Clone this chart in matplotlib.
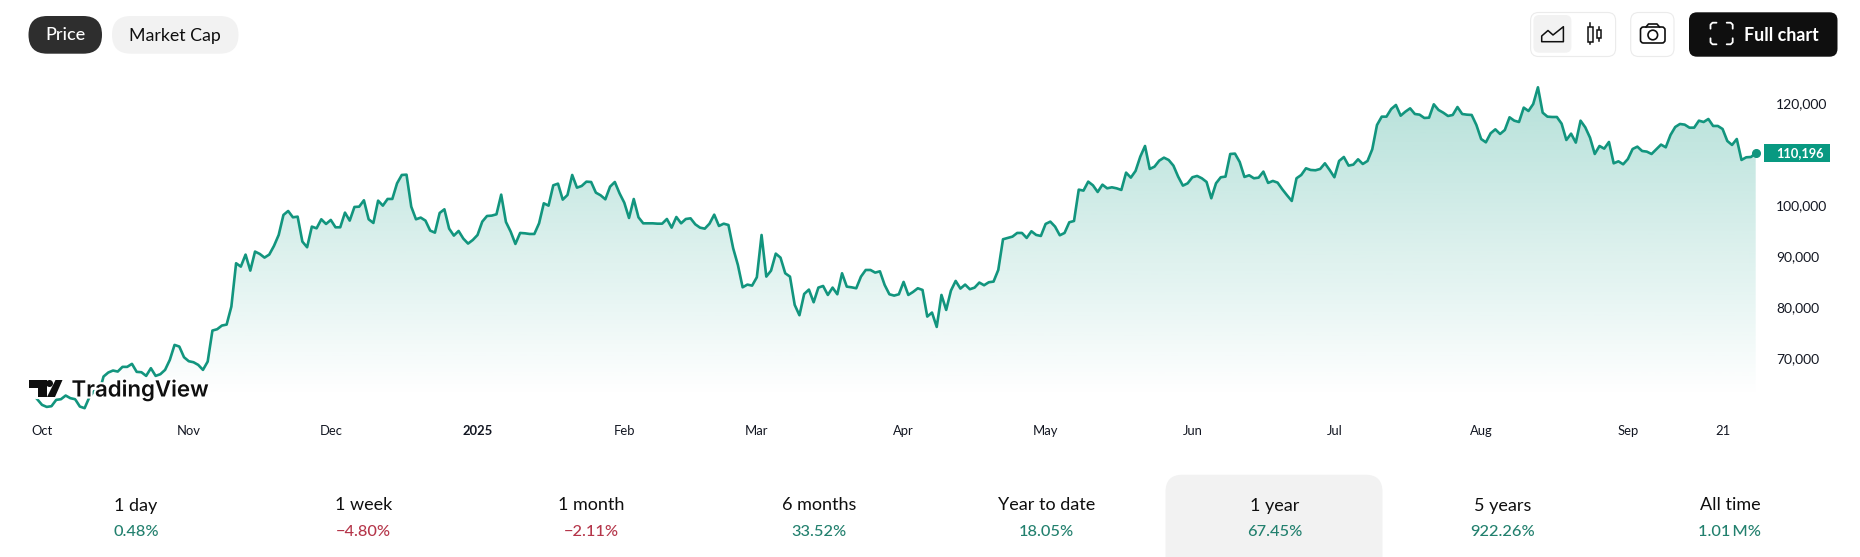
import numpy as np
import pandas as pd
import matplotlib
matplotlib.use("Agg")
import matplotlib.pyplot as plt
import matplotlib.dates as mdates
import matplotlib.patheffects as pe
from matplotlib.patches import FancyBboxPatch, Polygon, Circle, Rectangle

plt.rcParams['font.family'] = ['Lato', 'DejaVu Sans']

# daily closes, one list per month
sep_24 = [61900]
oct_24 = [60800, 60400, 60540, 61780, 61910, 62630, 62110, 61910, 60470, 60150, 62300,
          63500, 63000, 66360, 67150, 67540, 67340, 68260, 68260, 68850, 67280, 67210,
          66490, 68000, 66490, 66820, 67670, 69630, 72570, 72250, 70150]
nov_24 = [69370, 69170, 68650, 67670, 69300, 75390, 75650, 76370, 76560, 80090, 88600,
          87940, 90300, 87160, 90890, 90430, 89710, 90300, 92000, 94160, 98080, 98860,
          97620, 97750, 92850, 91740, 95790, 95460, 97230, 96310]
dec_24 = [97100, 95660, 95660, 98540, 96970, 99650, 99710, 100960, 97230, 96510, 100890,
          99910, 101220, 101220, 104290, 105930, 105990, 99710, 97230, 97560, 96970,
          95010, 94610, 98470, 99190, 95400, 94030, 94940, 93440, 92460, 93170]
jan_25 = [94150, 96770, 97880, 97950, 98210, 102070, 96710, 94810, 92390, 94550, 94480,
          94350, 94350, 96440, 100370, 99910, 103900, 104230, 101090, 102000, 105930,
          103440, 103770, 104620, 104550, 102460, 101940, 101150, 103640, 104550, 102330]
feb_25 = [100490, 97490, 101210, 97620, 96440, 96440, 96440, 96370, 96370, 97290, 95590,
          97680, 96440, 97290, 97420, 96240, 95590, 95390, 96370, 98140, 95920, 96370,
          96110, 91540, 88260, 83880, 84410, 84210]
mar_25 = [85850, 94150, 85980, 87150, 90490, 89700, 86630, 85980, 80420, 78390, 82570,
          83430, 80940, 83820, 84140, 82380, 83820, 82510, 86630, 84010, 83880, 83690,
          85980, 87280, 87280, 86760, 87020, 84340, 82510, 82250, 82510]
apr_25 = [84940, 82380, 82970, 83690, 83360, 78130, 78920, 76100, 82380, 79440, 83230,
          85130, 83630, 84410, 83500, 83820, 84810, 84280, 84870, 85000, 87290, 93310,
          93570, 93830, 94550, 94550, 93570, 94880, 94160, 93960]
may_25 = [96320, 96770, 95790, 94090, 94550, 96640, 96900, 103050, 102860, 104620, 103900,
          102590, 104030, 103310, 103510, 103310, 102990, 106390, 105410, 106720, 109530,
          111620, 107110, 107560, 108740, 109330, 108870, 107760, 105600, 103840, 104290]
jun_25 = [105480, 105740, 105280, 104560, 101360, 104300, 105480, 105610, 110050, 110120,
          108480, 105540, 105870, 105280, 105410, 106590, 104370, 104760, 104430, 103120,
          101940, 100830, 105280, 105930, 107240, 106910, 106850, 107110, 108220, 106910]
jul_25 = [105480, 108680, 109460, 107770, 107960, 109010, 108090, 108680, 110970, 115740,
          117380, 117380, 118880, 119670, 117570, 118360, 119010, 117900, 117770, 117120,
          117180, 119800, 118690, 118160, 117510, 117710, 119270, 117900, 117770, 117710, 115740]
aug_25 = [112990, 112340, 114110, 114890, 113980, 114760, 117250, 116590, 116330, 119150,
          118490, 119860, 123140, 118160, 117380, 117310, 117310, 116000, 112800, 114040,
          112280, 116590, 115280, 113260, 110050, 111620, 111100, 112410, 108220, 108610, 108030]
sep_25 = [109070, 111030, 111490, 110640, 110510, 110050, 110970, 111890, 111360, 113780,
          115350, 115940, 115810, 115220, 115220, 116590, 116330, 116920, 115550, 115550,
          114960, 112600, 111820, 112990, 108880, 109400, 109460, 110196]

month_starts = ["2024-10-01", "2024-11-01", "2024-12-01", "2025-01-01", "2025-02-01", "2025-03-01",
                "2025-04-01", "2025-05-01", "2025-06-01", "2025-07-01", "2025-08-01", "2025-09-01", "2025-09-21"]
month_labels = ["Oct", "Nov", "Dec", "2025", "Feb", "Mar", "Apr", "May", "Jun", "Jul", "Aug", "Sep", "21"]
# 110,000 is covered by the last price tag in the reference
price_ticks = [70000, 80000, 90000, 100000, 120000]

periods = ["1 day", "1 week", "1 month", "6 months", "Year to date", "1 year", "5 years", "All time"]
changes = ["0.48%", "\u22124.80%", "\u22122.11%", "33.52%", "18.05%", "67.45%", "922.26%", "1.01\u2009M%"]

prices = sep_24 + oct_24 + nov_24 + dec_24 + jan_25 + feb_25 + mar_25 + apr_25 + may_25 + jun_25 + jul_25 + aug_25 + sep_25
dates = pd.date_range("2024-09-30", periods=len(prices), freq="D")

GREEN = "#12957e"
W, H = 1860, 557

fig = plt.figure(figsize=(W / 100, H / 100), dpi=100, facecolor="white")


def px_axes(left, top, right, bottom):
    return fig.add_axes([left / W, 1 - bottom / H, (right - left) / W, (bottom - top) / H])


#### chart
ax = px_axes(28, 60, 1764, 412)
day0 = mdates.date2num(pd.Timestamp("2024-10-01"))
x_left, x_right = day0 + (28 - 42) / 4.734, day0 + (1764 - 42) / 4.734
y_low, y_high = 59400, 128500
for s in ax.spines.values():
    s.set_visible(False)
ax.patch.set_alpha(0)

# gradient under the line, clipped to the area
grad = np.zeros((256, 1, 4))
grad[:, 0, :3] = matplotlib.colors.to_rgb("#089981")
grad[:, 0, 3] = np.linspace(0.30, 0.0, 256)
x_num = mdates.date2num(dates)
im = ax.imshow(grad, extent=[x_num[0], x_num[-1], 62400, 123140], origin="upper", aspect="auto", zorder=1)
area = ax.fill_between(x_num, prices, 62400, facecolor="none", edgecolor="none")
im.set_clip_path(area.get_paths()[0], transform=ax.transData)
ax.set_xlim(x_left, x_right)
ax.set_ylim(y_low, y_high)

ax.plot(x_num, prices, color=GREEN, lw=1.9, zorder=3, solid_joinstyle="round")
ax.plot(x_num[-1], prices[-1], "o", color=GREEN, ms=5.5, zorder=4, clip_on=False)

ax.set_xticks(mdates.date2num(pd.to_datetime(month_starts)))
ax.set_xticklabels(month_labels, fontsize=9.4, color="#131722")
ax.get_xticklabels()[3].set_fontweight("bold")
ax.tick_params(axis="x", length=0, pad=9.5)
ax.yaxis.tick_right()
ax.set_yticks(price_ticks)
ax.set_yticklabels([f"{v:,}" for v in price_ticks], fontsize=10, color="#131722")
ax.tick_params(axis="y", length=0, pad=8.6)

# last price tag on the scale
tag_tr = ax.get_yaxis_transform()
ax.add_patch(Rectangle((1.0, prices[-1] - 1800), 66 / 1736, 3600, transform=tag_tr,
                       facecolor="#089981", edgecolor="none", clip_on=False, zorder=5))
ax.text(1 + 12 / 1736, prices[-1], f"{prices[-1]:,}", transform=tag_tr, color="white",
        fontsize=9.3, fontweight="bold", va="center", ha="left", zorder=6)

#### page furniture on top, pixel coordinates
ui = px_axes(0, 0, W, H)
ui.set_xlim(0, W)
ui.set_ylim(H, 0)
ui.axis("off")
ui.patch.set_alpha(0)


def box(x0, y0, x1, y1, r, fc, ec="none", lw=0):
    ui.add_patch(FancyBboxPatch((x0 + r, y0 + r), x1 - x0 - 2 * r, y1 - y0 - 2 * r,
                                boxstyle=f"round,pad={r},rounding_size={r}",
                                facecolor=fc, edgecolor=ec, linewidth=lw))


box(28.5, 16, 102, 53.7, 18.8, "#2e2e2e")
box(112, 16, 238.5, 53.7, 18.8, "#f2f2f2")
ui.text(65.5, 35.5, "Price", color="white", fontsize=13, ha="center", va="center", fontweight="medium")
ui.text(175, 35.5, "Market Cap", color="#0f0f0f", fontsize=12.8, ha="center", va="center")

# chart type / camera / full chart buttons
box(1530.6, 12.5, 1615.6, 56.5, 8, "white", "#ebebeb", 0.8)
box(1533.4, 15, 1571.4, 52.7, 6, "#f2f2f2")
ui.add_patch(Polygon([(1541.7, 41.7), (1541.7, 36), (1548, 30.5), (1553, 35), (1563.4, 26.7), (1563.4, 41.7)],
                     closed=True, fill=False, edgecolor="#0f0f0f", lw=1.1, joinstyle="round"))
ui.plot([1590, 1590], [22.7, 44.3], color="#0f0f0f", lw=1.1)
ui.add_patch(Rectangle((1587.5, 27), 5, 14.5, fc="#f7f7f7", ec="#0f0f0f", lw=1.1, zorder=3))
ui.plot([1599, 1599], [27, 41], color="#0f0f0f", lw=1.1)
ui.add_patch(Rectangle((1596.8, 30), 4.6, 8.2, fc="white", ec="#0f0f0f", lw=1.1, zorder=3))

box(1630.7, 12.5, 1674, 56.5, 8, "white", "#ebebeb", 0.8)
box(1640.5, 27, 1665, 43, 3, "white", "#0f0f0f", 1.2)
ui.plot([1646, 1648.5, 1657, 1659.5], [27, 24, 24, 27], color="#0f0f0f", lw=1.2)
ui.add_patch(Circle((1652.8, 35), 4.8, fc="white", ec="#0f0f0f", lw=1.2, zorder=3))

box(1689, 12.3, 1837.5, 56.7, 8, "#0f0f0f")
for cx, cy, sx, sy in [(1710.5, 22.7, 1, 1), (1732.7, 22.7, -1, 1), (1710.5, 44.3, 1, -1), (1732.7, 44.3, -1, -1)]:
    ui.plot([cx, cx, cx + sx * 2, cx + sx * 6], [cy + sy * 6, cy + sy * 2, cy, cy],
            color="white", lw=1.3, solid_capstyle="round")
ui.text(1781, 35.5, "Full chart", color="white", fontsize=12.9, ha="center", va="center", fontweight="bold")

# TradingView mark, white edge hides the line running behind it
halo = [pe.withStroke(linewidth=3, foreground="white")]
t_mark = Polygon([(28.5, 380), (47, 380), (47, 397), (37.5, 397), (37.5, 387.5), (28.5, 387.5)],
                 fc="#0f0f0f", ec="none", zorder=6, path_effects=halo)
ui.add_patch(t_mark)
ui.add_patch(Circle((49.5, 383.5), 3.5, fc="#0f0f0f", ec="none", zorder=6))
ui.add_patch(Polygon([(55.5, 380), (62.5, 380), (55, 397), (47, 397)], fc="#0f0f0f", ec="none", zorder=6))
ui.text(71.5, 390, "TradingView", color="#0f0f0f", fontsize=16, ha="left", va="center",
        fontweight="semibold", family=["Inter", "DejaVu Sans"], zorder=6, path_effects=halo)

# performance strip
box(1165.5, 474.7, 1382.5, 575, 17, "#f2f2f2")
for i, (p, c) in enumerate(zip(periods, changes)):
    x = 136 + i * 227.7
    ui.text(x, 505.5, p, color="#0f0f0f", fontsize=13, ha="center", va="center")
    ui.text(x, 532, c, color="#b5364a" if c.startswith("\u2212") else "#22806e",
            fontsize=11.8, ha="center", va="center", fontweight="medium")

fig.savefig("out.png", dpi=100)
